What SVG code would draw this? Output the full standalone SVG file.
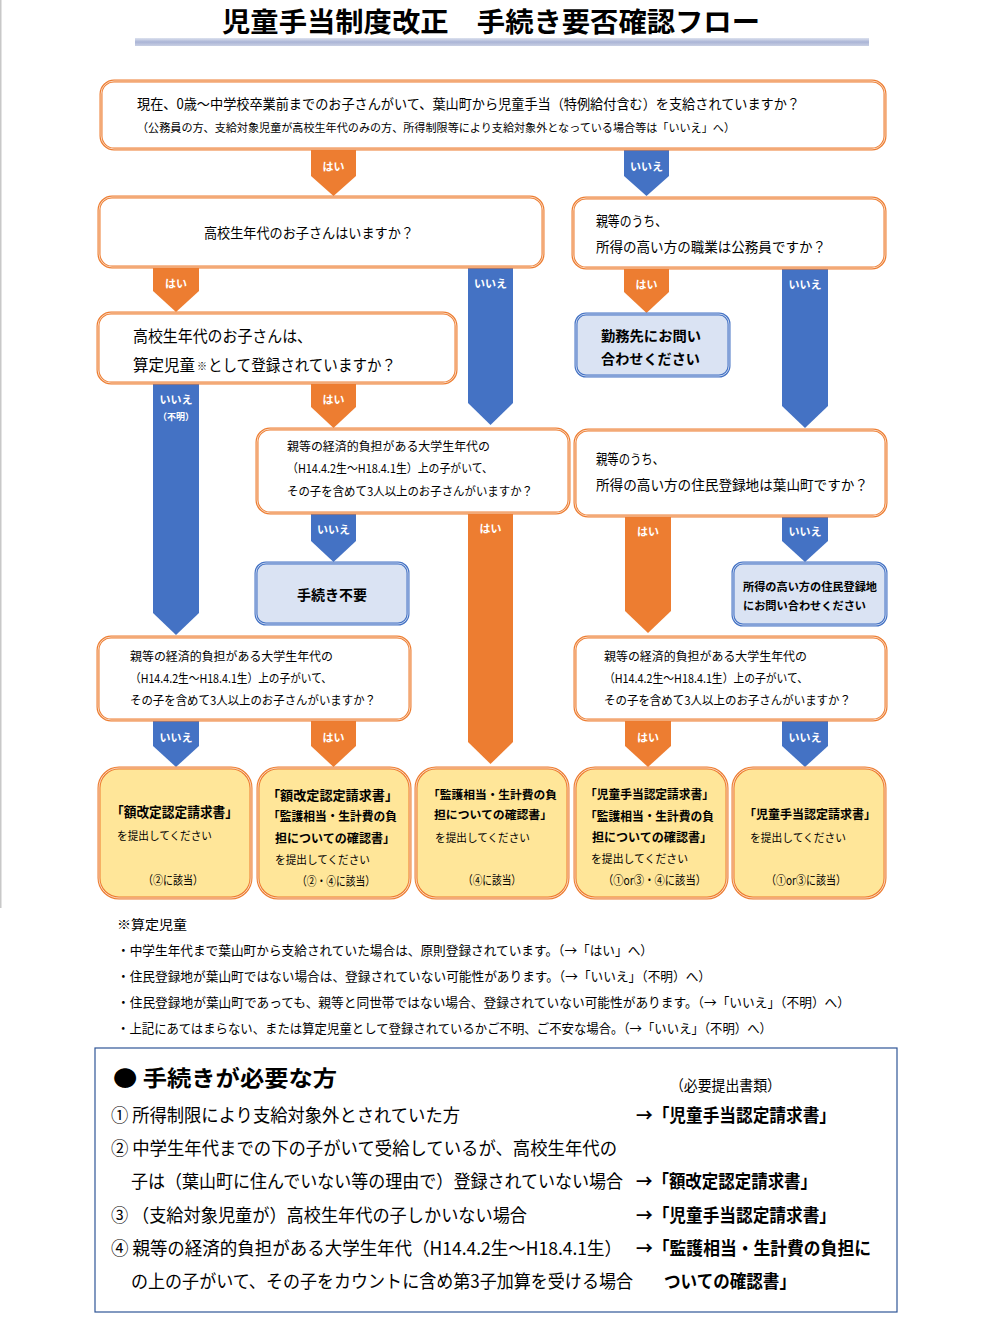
<svg xmlns="http://www.w3.org/2000/svg" width="994" height="1332" viewBox="0 0 994 1332">
<defs>
<linearGradient id="bar" x1="0" y1="0" x2="0" y2="1">
<stop offset="0" stop-color="#dde2ef"/>
<stop offset="0.5" stop-color="#aab4d6"/>
<stop offset="1" stop-color="#c9d0e4"/>
</linearGradient>
<style>
text{font-family:'Noto Sans CJK JP','Noto Sans',sans-serif;fill:#000}
.ob{fill:#fff;stroke:#ed7d31;stroke-width:3}
.yb{fill:#ffe699;stroke:#ed7d31;stroke-width:3}
.bb{fill:#dae3f3;stroke:#4472c4;stroke-width:3}
.gap{fill:none;stroke:#fff;stroke-width:0.8;stroke-opacity:0.85}
.or{fill:#ed7d31}
.bl{fill:#4472c4}
.lab{fill:#fff;font-size:11px;font-weight:700;text-anchor:middle}
.b{font-weight:700}
</style>
</defs>
<rect width="994" height="1332" fill="#fff"/>
<rect x="0" y="0" width="1.5" height="908" fill="#c8c8c8"/>

<g id="title">
<text x="491" y="32" font-size="27" font-weight="700" text-anchor="middle" textLength="538" lengthAdjust="spacingAndGlyphs">児童手当制度改正　手続き要否確認フロー</text>
<rect x="135" y="38" width="734" height="8" fill="url(#bar)"/>
</g>

<g id="connectors">
<path class="or" d="M311,150H356V176L333.5,196L311,176Z"/><text class="lab" x="333.5" y="171">はい</text>
<path class="bl" d="M624,150H669V176L646.5,196L624,176Z"/><text class="lab" x="646.5" y="171">いいえ</text>
<path class="or" d="M153,268H199V291L176,312L153,291Z"/><text class="lab" x="176" y="288">はい</text>
<path class="bl" d="M468,268H513V403L490.5,425L468,403Z"/><text class="lab" x="490.5" y="288">いいえ</text>
<path class="or" d="M624,268H669V292L646.5,313L624,292Z"/><text class="lab" x="646.5" y="289">はい</text>
<path class="bl" d="M782,268H828V406L805,428L782,406Z"/><text class="lab" x="805" y="289">いいえ</text>
<path class="bl" d="M153,384H199V613L176,635L153,613Z"/><text class="lab" x="176" y="404">いいえ</text><text class="lab" x="176" y="420" style="font-size:9px">（不明）</text>
<path class="or" d="M311,384H356V407L333.5,428L311,407Z"/><text class="lab" x="333.5" y="404">はい</text>
<path class="bl" d="M311,514H356V541L333.5,562L311,541Z"/><text class="lab" x="333.5" y="534">いいえ</text>
<path class="or" d="M468,514H513V742L490.5,764L468,742Z"/><text class="lab" x="490.5" y="533">はい</text>
<path class="or" d="M625,517H671V611L648,633L625,611Z"/><text class="lab" x="648" y="536">はい</text>
<path class="bl" d="M782,517H828V541L805,562L782,541Z"/><text class="lab" x="805" y="536">いいえ</text>
<path class="bl" d="M153,721H199V746L176,767L153,746Z"/><text class="lab" x="176" y="742">いいえ</text>
<path class="or" d="M311,721H356V746L333.5,767L311,746Z"/><text class="lab" x="333.5" y="742">はい</text>
<path class="or" d="M625,721H671V746L648,767L625,746Z"/><text class="lab" x="648" y="742">はい</text>
<path class="bl" d="M782,721H828V746L805,767L782,746Z"/><text class="lab" x="805" y="742">いいえ</text>
</g>

<g id="q1">
<rect class="ob" x="101" y="81" width="784" height="68" rx="13"/>
<rect class="gap" x="101" y="81" width="784" height="68" rx="13"/>
<text x="137" y="109" font-size="14" textLength="663" lengthAdjust="spacingAndGlyphs">現在、0歳～中学校卒業前までのお子さんがいて、葉山町から児童手当（特例給付含む）を支給されていますか？</text>
<text x="137" y="132" font-size="11.5" textLength="598" lengthAdjust="spacingAndGlyphs">（公務員の方、支給対象児童が高校生年代のみの方、所得制限等により支給対象外となっている場合等は「いいえ」へ）</text>
</g>

<g id="q2">
<rect class="ob" x="99" y="197" width="444" height="70" rx="13"/>
<rect class="gap" x="99" y="197" width="444" height="70" rx="13"/>
<text x="204" y="238" font-size="14" textLength="210" lengthAdjust="spacingAndGlyphs">高校生年代のお子さんはいますか？</text>
</g>

<g id="q3">
<rect class="ob" x="573" y="198" width="312" height="70" rx="13"/>
<rect class="gap" x="573" y="198" width="312" height="70" rx="13"/>
<text x="596" y="226" font-size="14" textLength="71" lengthAdjust="spacingAndGlyphs">親等のうち、</text>
<text x="596" y="252" font-size="14" textLength="230" lengthAdjust="spacingAndGlyphs">所得の高い方の職業は公務員ですか？</text>
</g>

<g id="q4">
<rect class="ob" x="98" y="313" width="358" height="70" rx="13"/>
<rect class="gap" x="98" y="313" width="358" height="70" rx="13"/>
<text x="133" y="342" font-size="16" textLength="179" lengthAdjust="spacingAndGlyphs">高校生年代のお子さんは、</text>
<text x="133" y="371" font-size="16" textLength="62" lengthAdjust="spacingAndGlyphs">算定児童</text>
<text x="197" y="370" font-size="10">※</text>
<text x="208" y="371" font-size="16" textLength="188" lengthAdjust="spacingAndGlyphs">として登録されていますか？</text>
</g>

<g id="r-kinmu">
<rect class="bb" x="576" y="314" width="153" height="62" rx="10"/>
<rect class="gap" x="576" y="314" width="153" height="62" rx="10"/>
<text class="b" x="601" y="341" font-size="14" textLength="100" lengthAdjust="spacingAndGlyphs">勤務先にお問い</text>
<text class="b" x="601" y="364" font-size="14" textLength="99" lengthAdjust="spacingAndGlyphs">合わせください</text>
</g>

<g id="q5">
<rect class="ob" x="257" y="429" width="312" height="84" rx="13"/>
<rect class="gap" x="257" y="429" width="312" height="84" rx="13"/>
<text x="287" y="451" font-size="12" textLength="203" lengthAdjust="spacingAndGlyphs">親等の経済的負担がある大学生年代の</text>
<text x="287" y="473" font-size="12" textLength="206" lengthAdjust="spacingAndGlyphs">（H14.4.2生～H18.4.1生）上の子がいて、</text>
<text x="287" y="496" font-size="12" textLength="246" lengthAdjust="spacingAndGlyphs">その子を含めて3人以上のお子さんがいますか？</text>
</g>

<g id="q6">
<rect class="ob" x="575" y="430" width="311" height="86" rx="13"/>
<rect class="gap" x="575" y="430" width="311" height="86" rx="13"/>
<text x="596" y="464" font-size="14" textLength="68" lengthAdjust="spacingAndGlyphs">親等のうち、</text>
<text x="596" y="490" font-size="14" textLength="272" lengthAdjust="spacingAndGlyphs">所得の高い方の住民登録地は葉山町ですか？</text>
</g>

<g id="r-fuyou">
<rect class="bb" x="256" y="563" width="152" height="61" rx="10"/>
<rect class="gap" x="256" y="563" width="152" height="61" rx="10"/>
<text class="b" x="297" y="600" font-size="14" textLength="70" lengthAdjust="spacingAndGlyphs">手続き不要</text>
</g>

<g id="r-juumin">
<rect class="bb" x="733" y="563" width="153" height="62" rx="10"/>
<rect class="gap" x="733" y="563" width="153" height="62" rx="10"/>
<text class="b" x="743" y="591" font-size="11" textLength="134" lengthAdjust="spacingAndGlyphs">所得の高い方の住民登録地</text>
<text class="b" x="743" y="610" font-size="11" textLength="123" lengthAdjust="spacingAndGlyphs">にお問い合わせください</text>
</g>

<g id="q7">
<rect class="ob" x="98" y="637" width="312" height="83" rx="13"/>
<rect class="gap" x="98" y="637" width="312" height="83" rx="13"/>
<text x="130" y="661" font-size="12" textLength="203" lengthAdjust="spacingAndGlyphs">親等の経済的負担がある大学生年代の</text>
<text x="130" y="683" font-size="12" textLength="202" lengthAdjust="spacingAndGlyphs">（H14.4.2生～H18.4.1生）上の子がいて、</text>
<text x="130" y="705" font-size="12" textLength="246" lengthAdjust="spacingAndGlyphs">その子を含めて3人以上のお子さんがいますか？</text>
</g>

<g id="q8">
<rect class="ob" x="575" y="637" width="311" height="83" rx="13"/>
<rect class="gap" x="575" y="637" width="311" height="83" rx="13"/>
<text x="604" y="661" font-size="12" textLength="203" lengthAdjust="spacingAndGlyphs">親等の経済的負担がある大学生年代の</text>
<text x="604" y="683" font-size="12" textLength="204" lengthAdjust="spacingAndGlyphs">（H14.4.2生～H18.4.1生）上の子がいて、</text>
<text x="604" y="705" font-size="12" textLength="247" lengthAdjust="spacingAndGlyphs">その子を含めて3人以上のお子さんがいますか？</text>
</g>

<g id="d1">
<rect class="yb" x="99" y="768" width="152" height="130" rx="20"/>
<rect class="gap" x="99" y="768" width="152" height="130" rx="20"/>
<text class="b" x="111" y="817" font-size="13.5" textLength="127" lengthAdjust="spacingAndGlyphs">「額改定認定請求書」</text>
<text x="117" y="840" font-size="11" textLength="95" lengthAdjust="spacingAndGlyphs">を提出してください</text>
<text x="143" y="885" font-size="12" textLength="60" lengthAdjust="spacingAndGlyphs">（②に該当）</text>
</g>

<g id="d2">
<rect class="yb" x="258" y="768" width="152" height="130" rx="20"/>
<rect class="gap" x="258" y="768" width="152" height="130" rx="20"/>
<text class="b" x="267" y="800" font-size="13" textLength="131" lengthAdjust="spacingAndGlyphs">「額改定認定請求書」</text>
<text class="b" x="268" y="821" font-size="12" textLength="129" lengthAdjust="spacingAndGlyphs">「監護相当・生計費の負</text>
<text class="b" x="275" y="843" font-size="12" textLength="120" lengthAdjust="spacingAndGlyphs">担についての確認書」</text>
<text x="275" y="864" font-size="11" textLength="95" lengthAdjust="spacingAndGlyphs">を提出してください</text>
<text x="297" y="886" font-size="12" textLength="78" lengthAdjust="spacingAndGlyphs">（②・④に該当）</text>
</g>

<g id="d3">
<rect class="yb" x="416" y="768" width="152" height="130" rx="20"/>
<rect class="gap" x="416" y="768" width="152" height="130" rx="20"/>
<text class="b" x="428" y="799" font-size="11.5" textLength="129" lengthAdjust="spacingAndGlyphs">「監護相当・生計費の負</text>
<text class="b" x="434" y="819" font-size="11.5" textLength="118" lengthAdjust="spacingAndGlyphs">担についての確認書」</text>
<text x="435" y="842" font-size="11" textLength="95" lengthAdjust="spacingAndGlyphs">を提出してください</text>
<text x="463" y="885" font-size="12" textLength="58" lengthAdjust="spacingAndGlyphs">（④に該当）</text>
</g>

<g id="d4">
<rect class="yb" x="575" y="768" width="152" height="130" rx="20"/>
<rect class="gap" x="575" y="768" width="152" height="130" rx="20"/>
<text class="b" x="585" y="799" font-size="12.5" textLength="129" lengthAdjust="spacingAndGlyphs">「児童手当認定請求書」</text>
<text class="b" x="585" y="821" font-size="12" textLength="129" lengthAdjust="spacingAndGlyphs">「監護相当・生計費の負</text>
<text class="b" x="592" y="842" font-size="12" textLength="120" lengthAdjust="spacingAndGlyphs">担についての確認書」</text>
<text x="591" y="863" font-size="11" textLength="97" lengthAdjust="spacingAndGlyphs">を提出してください</text>
<text x="603" y="885" font-size="12" textLength="103" lengthAdjust="spacingAndGlyphs">（①or③・④に該当）</text>
</g>

<g id="d5">
<rect class="yb" x="733" y="768" width="152" height="130" rx="20"/>
<rect class="gap" x="733" y="768" width="152" height="130" rx="20"/>
<text class="b" x="744" y="819" font-size="12.5" textLength="132" lengthAdjust="spacingAndGlyphs">「児童手当認定請求書」</text>
<text x="750" y="842" font-size="11" textLength="96" lengthAdjust="spacingAndGlyphs">を提出してください</text>
<text x="766" y="885" font-size="12" textLength="80" lengthAdjust="spacingAndGlyphs">（①or③に該当）</text>
</g>

<g id="notes">
<text x="117" y="929" font-size="13" textLength="70" lengthAdjust="spacingAndGlyphs">※算定児童</text>
<text x="117" y="955" font-size="13" textLength="536" lengthAdjust="spacingAndGlyphs">・中学生年代まで葉山町から支給されていた場合は、原則登録されています。（→「はい」へ）</text>
<text x="117" y="981" font-size="13" textLength="594" lengthAdjust="spacingAndGlyphs">・住民登録地が葉山町ではない場合は、登録されていない可能性があります。（→「いいえ」（不明）へ）</text>
<text x="117" y="1007" font-size="13" textLength="733" lengthAdjust="spacingAndGlyphs">・住民登録地が葉山町であっても、親等と同世帯ではない場合、登録されていない可能性があります。（→「いいえ」（不明）へ）</text>
<text x="117" y="1033" font-size="13" textLength="655" lengthAdjust="spacingAndGlyphs">・上記にあてはまらない、または算定児童として登録されているかご不明、ご不安な場合。（→「いいえ」（不明）へ）</text>
</g>

<g id="summary">
<rect x="95" y="1048" width="802" height="264" fill="none" stroke="#2f5597" stroke-width="1.2"/>
<text class="b" x="113" y="1086" font-size="22" textLength="224" lengthAdjust="spacingAndGlyphs">● 手続きが必要な方</text>
<text x="670" y="1091" font-size="15" textLength="111" lengthAdjust="spacingAndGlyphs">（必要提出書類）</text>
<text x="111" y="1122" font-size="18" textLength="349" lengthAdjust="spacingAndGlyphs">① 所得制限により支給対象外とされていた方</text>
<text class="b" x="636" y="1122" font-size="18" textLength="200" lengthAdjust="spacingAndGlyphs">→「児童手当認定請求書」</text>
<text x="111" y="1155" font-size="18" textLength="506" lengthAdjust="spacingAndGlyphs">② 中学生年代までの下の子がいて受給しているが、高校生年代の</text>
<text x="131" y="1188" font-size="18" textLength="492" lengthAdjust="spacingAndGlyphs">子は（葉山町に住んでいない等の理由で）登録されていない場合</text>
<text class="b" x="636" y="1188" font-size="18" textLength="181" lengthAdjust="spacingAndGlyphs">→「額改定認定請求書」</text>
<text x="111" y="1222" font-size="18" textLength="416" lengthAdjust="spacingAndGlyphs">③ （支給対象児童が）高校生年代の子しかいない場合</text>
<text class="b" x="636" y="1222" font-size="18" textLength="200" lengthAdjust="spacingAndGlyphs">→「児童手当認定請求書」</text>
<text x="111" y="1255" font-size="18" textLength="511" lengthAdjust="spacingAndGlyphs">④ 親等の経済的負担がある大学生年代（H14.4.2生～H18.4.1生）</text>
<text class="b" x="636" y="1255" font-size="18" textLength="235" lengthAdjust="spacingAndGlyphs">→「監護相当・生計費の負担に</text>
<text x="131" y="1288" font-size="18" textLength="502" lengthAdjust="spacingAndGlyphs">の上の子がいて、その子をカウントに含め第3子加算を受ける場合</text>
<text class="b" x="664" y="1288" font-size="18" textLength="132" lengthAdjust="spacingAndGlyphs">ついての確認書」</text>
</g>
</svg>
